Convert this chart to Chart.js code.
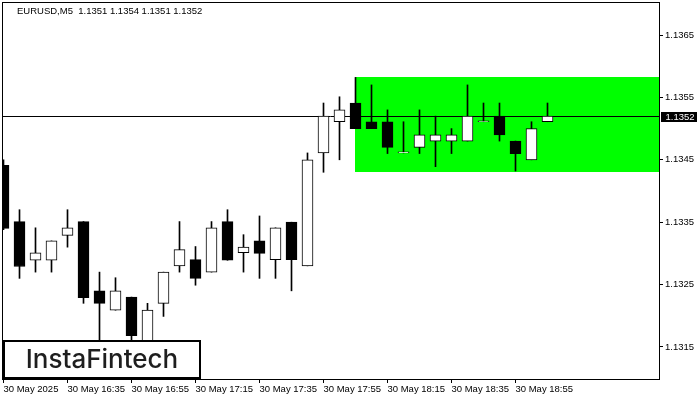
<!DOCTYPE html>
<html>
<head>
<meta charset="utf-8">
<script src="https://cdn.jsdelivr.net/npm/chart.js@4"></script>
<style>
  html, body { margin: 0; padding: 0; background: #fff; }
  canvas { display: block; }
</style>
</head>
<body>
<canvas id="chart" width="700" height="400"></canvas>
<script>
// EURUSD M5 candles, one per 5 minutes starting 30 May 16:15
const candleIndex = [0, 1, 2, 3, 4, 5, 6, 7, 8, 9, 10, 11, 12, 13, 14, 15, 16, 17,
  18, 19, 20, 21, 22, 23, 24, 25, 26, 27, 28, 29, 30, 31, 32, 33, 34];
const openPrices = [1.13441, 1.13351, 1.13289, 1.13289, 1.13329, 1.13351, 1.13240, 1.13209, 1.13230,
  1.13150, 1.13220, 1.13280, 1.13290, 1.13270, 1.13351, 1.13301, 1.13320, 1.13290, 1.13350,
  1.13280, 1.13461, 1.13511, 1.13541, 1.13511, 1.13511, 1.13461, 1.13470, 1.13480, 1.13480,
  1.13480, 1.13511, 1.13520, 1.13480, 1.13450, 1.13511];
const highPrices = [1.13450, 1.13370, 1.13341, 1.13320, 1.13370, 1.13351, 1.13270, 1.13261, 1.13230,
  1.13220, 1.13270, 1.13351, 1.13311, 1.13351, 1.13370, 1.13330, 1.13360, 1.13341, 1.13350,
  1.13461, 1.13541, 1.13551, 1.13582, 1.13570, 1.13530, 1.13511, 1.13530, 1.13520, 1.13500,
  1.13570, 1.13541, 1.13541, 1.13480, 1.13511, 1.13541];
const lowPrices = [1.13338, 1.13260, 1.13270, 1.13270, 1.13310, 1.13220, 1.13135, 1.13209, 1.13155,
  1.13140, 1.13199, 1.13270, 1.13249, 1.13270, 1.13289, 1.13270, 1.13260, 1.13260, 1.13240,
  1.13280, 1.13430, 1.13450, 1.13500, 1.13500, 1.13460, 1.13461, 1.13460, 1.13439, 1.13460,
  1.13480, 1.13511, 1.13480, 1.13432, 1.13450, 1.13511];
const closePrices = [1.13340, 1.13279, 1.13301, 1.13320, 1.13341, 1.13229, 1.13220, 1.13240, 1.13168,
  1.13209, 1.13270, 1.13306, 1.13260, 1.13341, 1.13289, 1.13310, 1.13300, 1.13341, 1.13290,
  1.13450, 1.13520, 1.13530, 1.13500, 1.13500, 1.13470, 1.13461, 1.13490, 1.13490, 1.13490,
  1.13520, 1.13511, 1.13490, 1.13460, 1.13500, 1.13520];

const xTicks = [0, 4, 8, 12, 16, 20, 24, 28, 32];
const xTickLabels = ["30 May 2025", "30 May 16:35", "30 May 16:55", "30 May 17:15", "30 May 17:35",
  "30 May 17:55", "30 May 18:15", "30 May 18:35", "30 May 18:55"];
const yTicks = [1.1315, 1.1325, 1.1335, 1.1345, 1.1355, 1.1365];

// rectangle pattern zone and last price
const zoneStart = 22;
const zoneHigh = 1.13582;
const zoneLow = 1.13431;
const lastPrice = 1.1352;
const headerText = "EURUSD,M5  1.1351 1.1354 1.1351 1.1352";

const font = "Liberation Sans, Arial, sans-serif";

const bodies = candleIndex.map((k, i) => ({ x: k, y: [openPrices[i], closePrices[i]] }));
const wicks = candleIndex.map((k, i) => ({ x: k, y: [lowPrices[i], highPrices[i]] }));
const bodyColors = candleIndex.map((k, i) => closePrices[i] >= openPrices[i] ? "#ffffff" : "#000000");

function fixBox(width, height) {
    return s => {
        if (width) s.width = width;
        if (height) s.height = height;
        s.paddingLeft = 0;
        s.paddingRight = 0;
        s.paddingTop = 0;
        s.paddingBottom = 0;
    };
}

const overlay = {
    id: "overlay",
    beforeDatasetsDraw(chart) {
        const { ctx, chartArea: a, scales: { x, y } } = chart;
        ctx.save();
        const x0 = Math.floor(x.getPixelForValue(zoneStart));
        const top = Math.round(y.getPixelForValue(zoneHigh));
        const bottom = Math.round(y.getPixelForValue(zoneLow));
        ctx.fillStyle = "#00ff00";
        ctx.fillRect(x0, top, a.right - x0, bottom - top);

        const py = Math.round(y.getPixelForValue(lastPrice)) + 0.5;
        ctx.strokeStyle = "#000";
        ctx.lineWidth = 1;
        ctx.beginPath();
        ctx.moveTo(a.left, py);
        ctx.lineTo(a.right, py);
        ctx.stroke();
        ctx.restore();
    },
    afterDraw(chart) {
        const { ctx, chartArea: a, scales: { y } } = chart;
        ctx.save();
        // frame
        ctx.strokeStyle = "#000";
        ctx.lineWidth = 1;
        ctx.strokeRect(a.left + 0.5, a.top + 0.5, a.right - a.left, a.bottom - a.top);

        // last price tag
        const py = Math.round(y.getPixelForValue(lastPrice));
        ctx.fillStyle = "#000";
        ctx.fillRect(a.right + 2, py - 4, 36, 10);
        ctx.fillStyle = "#fff";
        ctx.font = "9.5px " + font;
        ctx.textBaseline = "middle";
        ctx.fillText(lastPrice.toFixed(4), a.right + 6.5, py + 1);

        // header
        ctx.fillStyle = "#000";
        ctx.textBaseline = "alphabetic";
        ctx.font = "9.5px " + font;
        ctx.fillText(headerText, 17, 14);

        // logo box
        ctx.fillStyle = "#fff";
        ctx.fillRect(3, 340, 198, 39);
        ctx.lineWidth = 2;
        ctx.strokeStyle = "#000";
        ctx.strokeRect(4, 341, 196, 37);
        ctx.fillStyle = "#1e1e1e";
        ctx.font = "500 26px Inter, sans-serif";
        ctx.textAlign = "center";
        ctx.fillText("InstaFintech", 102, 368);
        ctx.restore();
    }
};

const ctx = document.getElementById("chart").getContext("2d");
new Chart(ctx, {
    type: "bar",
    data: {
        datasets: [{
            label: "body",
            data: bodies,
            backgroundColor: bodyColors,
            borderColor: "#000",
            borderWidth: 1,
            borderSkipped: false,
            barThickness: 11,
            minBarLength: 1,
            grouped: false,
            clip: 0,
            order: 1
        }, {
            label: "wick",
            data: wicks,
            backgroundColor: "#000",
            borderWidth: 0,
            barThickness: 1,
            grouped: false,
            clip: 0,
            order: 2
        }]
    },
    options: {
        responsive: false,
        animation: false,
        layout: { padding: { left: 2, top: 2, right: 0, bottom: 0 } },
        plugins: { legend: { display: false }, tooltip: { enabled: false } },
        scales: {
            x: {
                type: "linear",
                position: "bottom",
                offset: false,
                min: -0.09375,
                max: 40.96875,
                afterBuildTicks: s => { s.ticks = xTicks.map(v => ({ value: v })); },
                afterFit: fixBox(0, 21),
                ticks: {
                    autoSkip: false,
                    maxRotation: 0,
                    align: "start",
                    padding: 1,
                    color: "#000",
                    font: { family: font, size: 9.5 },
                    callback: v => xTickLabels[xTicks.indexOf(v)]
                },
                grid: { offset: false, drawOnChartArea: false, drawTicks: true, tickLength: 4, color: "#000" },
                border: { display: false }
            },
            y: {
                type: "linear",
                position: "right",
                min: 1.130987,
                max: 1.137029,
                afterBuildTicks: s => { s.ticks = yTicks.map(v => ({ value: v })); },
                afterFit: fixBox(41, 0),
                ticks: {
                    padding: 2,
                    color: "#000",
                    font: { family: font, size: 9.5 },
                    callback: v => v.toFixed(4)
                },
                grid: { drawOnChartArea: false, drawTicks: true, tickLength: 4, color: "#000" },
                border: { display: false }
            }
        }
    },
    plugins: [overlay]
});
</script>
</body>
</html>
